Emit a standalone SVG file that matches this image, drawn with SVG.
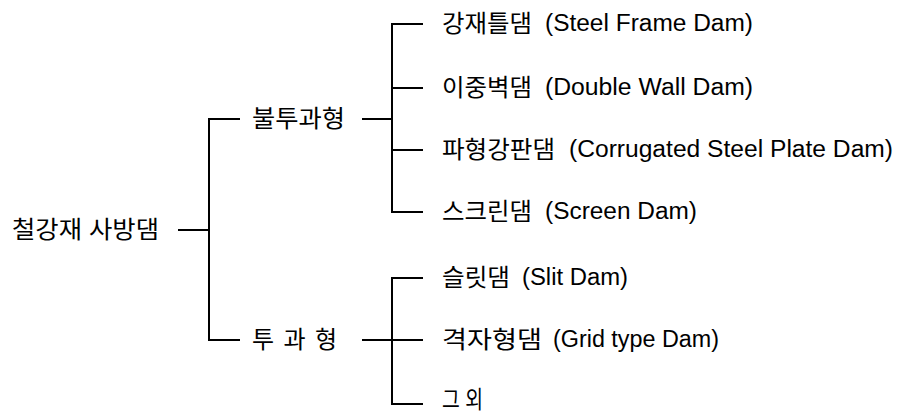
<svg xmlns="http://www.w3.org/2000/svg" width="898" height="412" viewBox="0 0 898 412">
<style>
.c{fill:none;stroke:#000;stroke-width:2}
.k{font-family:"Liberation Sans","Noto Sans CJK KR",sans-serif;font-size:24px;fill:#000}
.l{font-family:"Liberation Sans","Noto Sans CJK KR",sans-serif;font-size:23px;fill:#000}
</style>
<rect width="898" height="412" fill="#fff"/>
<g id="connectors">
<path class="c" d="M178 230H209"/>
<path class="c" d="M240 119H209V340H240"/>
<path class="c" d="M362 119H392"/>
<path class="c" d="M423 24H392V212H423"/>
<path class="c" d="M392 88H423M392 150H423"/>
<path class="c" d="M362 340H423"/>
<path class="c" d="M423 278H392V404H423"/>
</g>
<g id="root"><text class="k" x="12" y="238" textLength="147" lengthAdjust="spacingAndGlyphs">철강재 사방댐</text></g>
<g id="impermeable"><text class="k" x="252" y="127" textLength="93" lengthAdjust="spacingAndGlyphs">불투과형</text></g>
<g id="permeable"><text class="k" x="252" y="348" textLength="85" lengthAdjust="spacing">투 과 형</text></g>
<g id="steel-frame"><text class="k" x="442" y="32" textLength="90" lengthAdjust="spacingAndGlyphs">강재틀댐</text><text class="l" x="545" y="31" textLength="208" lengthAdjust="spacingAndGlyphs">(Steel Frame Dam)</text></g>
<g id="double-wall"><text class="k" x="442" y="96" textLength="90" lengthAdjust="spacingAndGlyphs">이중벽댐</text><text class="l" x="545" y="95" textLength="208" lengthAdjust="spacingAndGlyphs">(Double Wall Dam)</text></g>
<g id="corrugated"><text class="k" x="442" y="158" textLength="113" lengthAdjust="spacingAndGlyphs">파형강판댐</text><text class="l" x="569" y="157" textLength="324" lengthAdjust="spacingAndGlyphs">(Corrugated Steel Plate Dam)</text></g>
<g id="screen"><text class="k" x="442" y="220" textLength="90" lengthAdjust="spacingAndGlyphs">스크린댐</text><text class="l" x="545" y="219" textLength="152" lengthAdjust="spacingAndGlyphs">(Screen Dam)</text></g>
<g id="slit"><text class="k" x="442" y="286" textLength="68" lengthAdjust="spacingAndGlyphs">슬릿댐</text><text class="l" x="522" y="285" textLength="106" lengthAdjust="spacingAndGlyphs">(Slit Dam)</text></g>
<g id="grid"><text class="k" x="442" y="348" textLength="100" lengthAdjust="spacingAndGlyphs">격자형댐</text><text class="l" x="553" y="347" textLength="166" lengthAdjust="spacingAndGlyphs">(Grid type Dam)</text></g>
<g id="others"><text class="k" x="442" y="408" textLength="41" lengthAdjust="spacingAndGlyphs">그 외</text></g>
</svg>
